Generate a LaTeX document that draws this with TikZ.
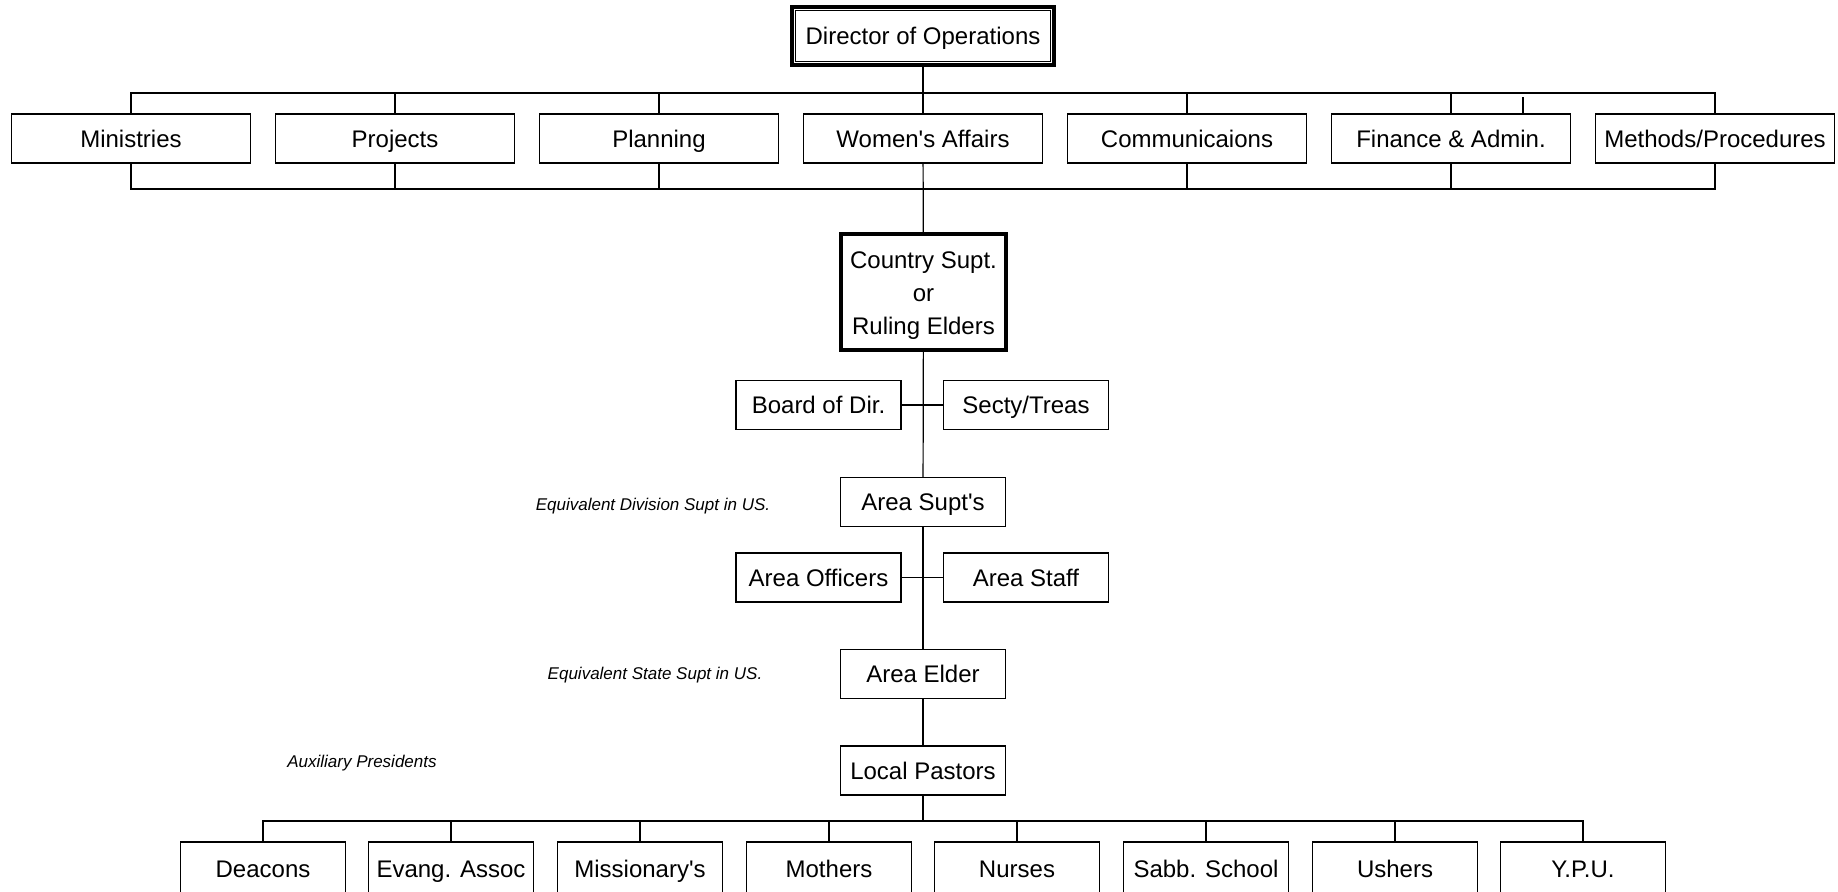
\documentclass[tikz,border=0pt]{standalone}
\usepackage{fontspec}
\setmainfont{Liberation Sans}
\tikzset{
  unit/.style = {draw=black, line width=0.6pt, inner sep=0pt, minimum height=24.5pt,
                 font=\fontsize{12}{14}\selectfont},
  oneline/.style = {text height=8.6pt, text depth=0pt},
  dept/.style = {unit, oneline, minimum width=119.5pt},
  office/.style = {unit, oneline, minimum width=82.5pt},
  aux/.style = {office, minimum height=27pt},
  chief/.style = {unit, oneline, line width=1.6pt, minimum width=131pt, minimum height=29pt},
  super/.style = {unit, line width=2.2pt, minimum width=82.5pt, minimum height=58pt,
                  align=center, font=\fontsize{12}{16.5}\selectfont},
  note/.style = {font=\fontsize{8.5}{10}\selectfont\itshape},
  link/.style = {line width=0.6pt}
}

\begin{document}
\begin{tikzpicture}[x=0.5pt,y=-0.5pt]
  \useasboundingbox (0,0) rectangle (1838,891);
  \coordinate (topbus) at (0,93);
  \coordinate (lowbus) at (0,189);
  \coordinate (auxbus) at (0,821);

  % head office
  \node[chief] (dir) at (923,36) {Director of Operations};
  \draw[link] ([shift={(5,5)}]dir.north west) rectangle ([shift={(-5,-5)}]dir.south east);

  \node[dept] (min) at (131,138.5) {Ministries};
  \node[dept] (proj) at (395,138.5) {Projects};
  \node[dept] (plan) at (659,138.5) {Planning};
  \node[dept] (women) at (923,138.5) {Women\textquotesingle s Affairs};
  \node[dept] (comm) at (1187,138.5) {Communicaions};
  \node[dept] (fin) at (1451,138.5) {Finance \& Admin.};
  \node[dept] (meth) at (1715,138.5) {Methods/Procedures};

  \draw[link] (min.north) -- (min.north |- topbus) -| (meth.north);
  \draw[link] (min.south) -- (min.south |- lowbus) -| (meth.south);
  \foreach \d in {proj,plan,comm,fin}{
    \draw[link] (\d.north) -- (\d.north |- topbus);
    \draw[link] (\d.south) -- (\d.south |- lowbus);
  }
  \draw[link] ([xshift=36]fin.north) -- ++(0,-16);
  \draw[link] (dir) -- (women);

  % country level
  \node[super] (country) at (923.5,292) {\rule{0pt}{12.4pt}Country Supt.\\or\\Ruling Elders};
  \draw[link] (women) -- (country);
  \node[office] (board) at (818.5,405) {Board of Dir.};
  \node[office] (secty) at (1026,405) {Secty/Treas};
  \draw[link] (board) -- (secty);

  \node[office] (areasupt) at (923,502) {Area Supt\textquotesingle s};
  \node[note] (divnote) at (653,506) {Equivalent Division Supt in US.};
  \draw[link] (country) -- (areasupt);
  \node[office] (officers) at (818.5,577.5) {Area Officers};
  \node[office] (staff) at (1026,577.5) {Area Staff};
  \draw[link] (officers) -- (staff);

  \node[office] (elder) at (923,674) {Area Elder};
  \node[note] (statenote) at (655,675) {Equivalent State Supt in US.};
  \draw[link] (areasupt) -- (elder);

  \node[office] (pastors) at (923,770.5) {Local Pastors};
  \node[note] (auxnote) at (362,763) {Auxiliary Presidents};
  \draw[link] (elder) -- (pastors);

  % auxiliaries
  \node[aux] (deacons) at (263,869) {Deacons};
  \node[aux] (evang) at (451,869) {Evang. Assoc};
  \node[aux] (miss) at (640,869) {Missionary\textquotesingle s};
  \node[aux] (mothers) at (829,869) {Mothers};
  \node[aux] (nurses) at (1017,869) {Nurses};
  \node[aux] (sabb) at (1206,869) {Sabb. School};
  \node[aux] (ushers) at (1395,869) {Ushers};
  \node[aux] (ypu) at (1583,869) {Y.P.U.};

  \draw[link] (pastors) -- (pastors |- auxbus);
  \draw[link] (deacons.north) -- (deacons.north |- auxbus) -| (ypu.north);
  \foreach \a in {evang,miss,mothers,nurses,sabb,ushers}
    \draw[link] (\a.north) -- (\a.north |- auxbus);
\end{tikzpicture}
\end{document}
